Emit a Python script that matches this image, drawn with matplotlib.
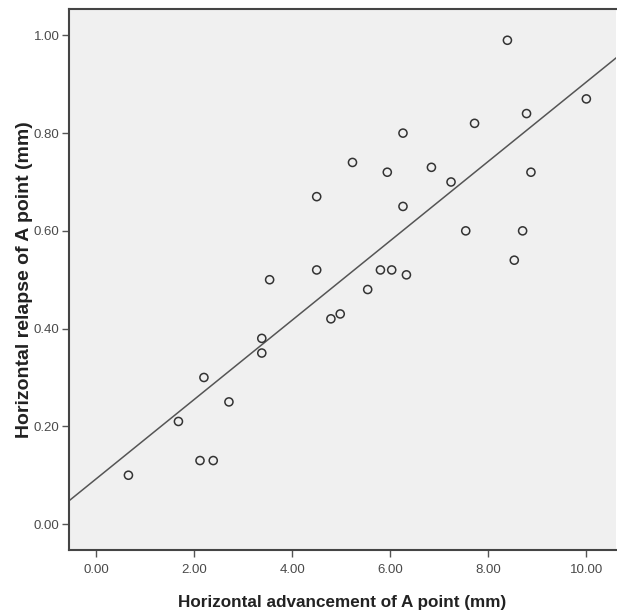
import numpy as np
import matplotlib.pyplot as plt

# Horizontal advancement (mm) vs horizontal relapse (mm) of A point
advancement = [0.66, 1.68, 2.20, 2.12, 2.39, 2.71, 3.38, 3.38, 3.54, 4.50,
               4.50, 4.79, 4.98, 5.23, 5.54, 5.80, 5.94, 6.03, 6.26, 6.26,
               6.33, 6.84, 7.24, 7.54, 7.72, 8.39, 8.53, 8.70, 8.78, 8.87,
               10.00]
relapse = [0.10, 0.21, 0.30, 0.13, 0.13, 0.25, 0.38, 0.35, 0.50, 0.67,
           0.52, 0.42, 0.43, 0.74, 0.48, 0.52, 0.72, 0.52, 0.80, 0.65,
           0.51, 0.73, 0.70, 0.60, 0.82, 0.99, 0.54, 0.60, 0.84, 0.72,
           0.87]

x_ticks = [0, 2, 4, 6, 8, 10]
y_ticks = [0.0, 0.2, 0.4, 0.6, 0.8, 1.0]

plt.rcParams['font.family'] = ['Liberation Sans', 'DejaVu Sans']

fig = plt.figure(figsize=(6.17, 6.15), dpi=100)
ax = fig.add_axes([0.112, 0.1057, 0.886, 0.8797])
ax.set_facecolor('#f0f0f0')

# fit line across the whole axes
xlim = (-0.55, 10.6)
slope, intercept = np.polyfit(advancement, relapse, 1)
xs = np.array(xlim)
ax.plot(xs, intercept + slope * xs, color='#555555', lw=1.1, zorder=2)

ax.scatter(advancement, relapse, s=34, facecolors='none',
           edgecolors='#333333', linewidths=1.1, zorder=3)

ax.set_xlim(*xlim)
ax.set_ylim(-0.053, 1.054)
ax.set_xticks(x_ticks)
ax.set_xticklabels([f"{t:.2f}" for t in x_ticks])
ax.set_yticks(y_ticks)
ax.set_yticklabels([f"{t:.2f}" for t in y_ticks])
ax.tick_params(direction='out', length=5, width=1, colors='#555555',
               labelsize=9.5, labelcolor='#4a4a4a')
ax.tick_params(axis='x', pad=5)
ax.tick_params(axis='y', pad=2)

for side in ['left', 'bottom', 'top']:
    ax.spines[side].set_color('#444444')
    ax.spines[side].set_linewidth(1.5)
ax.spines['right'].set_visible(False)

ax.set_xlabel('Horizontal advancement of A point (mm)', fontsize=12.3,
              fontweight='bold', color='#222222', labelpad=14)
ax.set_ylabel('Horizontal relapse of A point (mm)', fontsize=14,
              fontweight='bold', color='#222222', labelpad=0.5)

fig.savefig('out.png', dpi=100)
